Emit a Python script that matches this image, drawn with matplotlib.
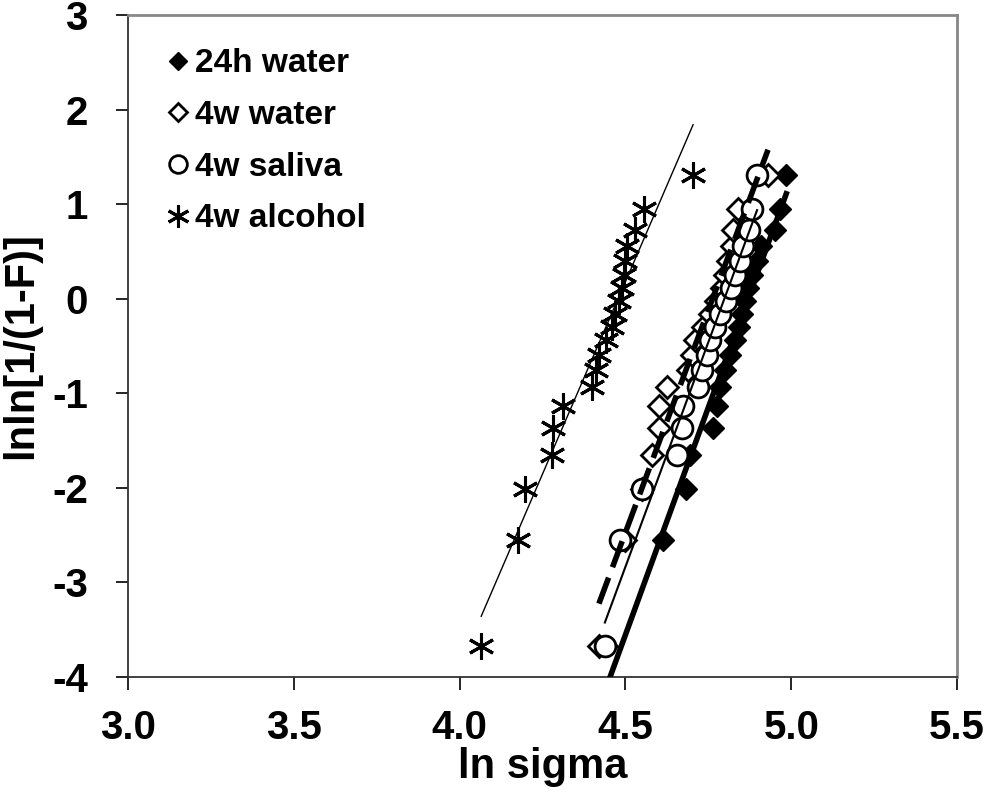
import numpy as np
import matplotlib
matplotlib.use('Agg')
import matplotlib.pyplot as plt

plt.rcParams['font.family'] = ['Liberation Sans', 'DejaVu Sans']
plt.rcParams['font.weight'] = 'bold'
plt.rcParams['axes.unicode_minus'] = False

# y = lnln[1/(1-F)] levels (20 specimens per group)
lnlnF = [-3.676, -2.552, -2.013, -1.648, -1.367, -1.135, -0.934, -0.755, -0.592, -0.440,
         -0.295, -0.156, -0.019, 0.117, 0.255, 0.400, 0.556, 0.732, 0.952, 1.305]

# ln sigma values
water_24h = [4.445, 4.613, 4.683, 4.695, 4.764, 4.775, 4.785, 4.80, 4.815, 4.83,
             4.843, 4.852, 4.86, 4.87, 4.882, 4.897, 4.91, 4.95, 4.965, 4.985]
water_4w = [4.42, 4.50, 4.55, 4.58, 4.60, 4.60, 4.625, 4.69, 4.70, 4.71,
            4.735, 4.755, 4.773, 4.791, 4.80, 4.81, 4.82, 4.825, 4.84, 4.93]
saliva_4w = [4.438, 4.484, 4.55, 4.656, 4.67, 4.674, 4.72, 4.73, 4.746, 4.755,
             4.77, 4.785, 4.803, 4.818, 4.83, 4.845, 4.855, 4.873, 4.882, 4.897]
alcohol_4w = [4.065, 4.176, 4.197, 4.279, 4.282, 4.312, 4.40, 4.41, 4.42, 4.44,
              4.46, 4.47, 4.48, 4.49, 4.495, 4.50, 4.505, 4.53, 4.555, 4.704]

labels = ['24h water', '4w water', '4w saliva', '4w alcohol']

fig, ax = plt.subplots(figsize=(9.85, 7.96), dpi=100)
fig.subplots_adjust(left=0.130, right=0.9716, top=0.981, bottom=0.1495)

y = np.array(lnlnF)

# markers
ax.plot(water_24h, y, 'D', color='black', ms=11, label=labels[0], zorder=3)
ax.plot(water_4w, y, 'D', mfc='white', mec='black', mew=2, ms=11, label=labels[1], zorder=3)
ax.plot(saliva_4w, y, 'o', mfc='white', mec='black', mew=2, ms=15, label=labels[2], zorder=4)
ax.plot(alcohol_4w, y, marker=(6, 2, 0), ls='none', color='black', mew=2.2, ms=19,
        label=labels[3], zorder=4)

# linear trend lines (ln sigma -> lnln)
line_styles = [dict(lw=4, ls='-'), dict(lw=4, ls=(0, (5, 2))), dict(lw=1.5, ls='-'), dict(lw=1, ls='-')]
for xs, st in zip([water_24h, water_4w, saliva_4w, alcohol_4w], line_styles):
    xs = np.array(xs)
    k, b = np.polyfit(xs, y, 1)
    xl = np.array([xs.min(), xs.max()])
    ax.plot(xl, k * xl + b, color='black', zorder=5, **st)

ax.set_xlim(3.0, 5.5)
ax.set_ylim(-4, 3)
ax.set_xticks(np.arange(3.0, 5.51, 0.5))
ax.set_xticklabels([f'{v:.1f}' for v in np.arange(3.0, 5.51, 0.5)])
ax.set_yticks(range(-4, 4))
ax.tick_params(axis='both', direction='out', length=9, width=1.2, labelsize=29, pad=14)
ax.tick_params(axis='y', pad=20)

for s in ['left', 'bottom']:
    ax.spines[s].set_color('#333333')
    ax.spines[s].set_linewidth(1.3)
for s in ['top', 'right']:
    ax.spines[s].set_color('#888888')
    ax.spines[s].set_linewidth(2)

ax.set_xlabel('ln sigma', fontsize=30, fontweight='bold', labelpad=0)
ax.set_ylabel('lnln[1/(1-F)]', fontsize=30, fontweight='bold', labelpad=8)

ax.legend(loc='upper left', frameon=False, fontsize=24, markerscale=0.85,
          handlelength=0.6, handletextpad=0.2, labelspacing=0.62,
          borderaxespad=0.3, bbox_to_anchor=(0.02, 0.985))

fig.savefig('out.png', dpi=100)
